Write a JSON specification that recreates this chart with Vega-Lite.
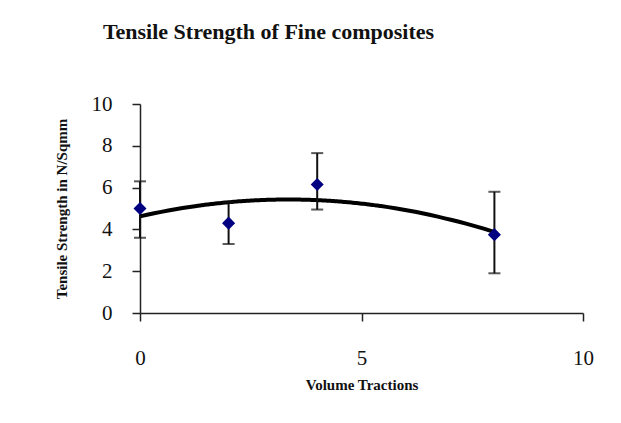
{
  "$schema": "https://vega.github.io/schema/vega-lite/v6.json",
  "autosize": "none",
  "width": 443,
  "height": 209,
  "padding": {"left": 140, "top": 104, "right": 38, "bottom": 110},
  "background": "white",
  "config": {
    "view": {"stroke": null},
    "font": "Liberation Serif",
    "axis": {
      "grid": false,
      "labelFlush": false,
      "labelOverlap": false,
      "domainColor": "#222222",
      "domainWidth": 1.5,
      "tickColor": "#222222",
      "tickWidth": 1.5,
      "tickSize": 8,
      "labelFont": "Liberation Serif",
      "labelFontSize": 21,
      "labelColor": "#111111",
      "titleFont": "Liberation Serif",
      "titleFontSize": 15,
      "titleFontWeight": "bold",
      "titleColor": "#111111"
    }
  },
  "title": {
    "text": "Tensile Strength of Fine composites",
    "font": "Liberation Serif",
    "fontSize": 22,
    "fontWeight": "bold",
    "color": "#111111",
    "anchor": "middle",
    "frame": "group",
    "dx": -93,
    "offset": 49
  },
  "data": {
    "values": [
      {"fraction": 0, "strength": 5.0, "low": 3.6, "high": 6.3},
      {"fraction": 2, "strength": 4.3, "low": 3.3, "high": 5.3},
      {"fraction": 4, "strength": 6.15, "low": 4.95, "high": 7.65},
      {"fraction": 8, "strength": 3.75, "low": 1.9, "high": 5.8}
    ]
  },
  "layer": [
    {
      "transform": [
        {"regression": "strength", "on": "fraction", "method": "poly", "order": 2, "extent": [0, 8]}
      ],
      "mark": {"type": "line", "color": "black", "strokeWidth": 4, "interpolate": "monotone"},
      "encoding": {
        "x": {
          "field": "fraction", "type": "quantitative",
          "scale": {"domain": [0, 10]},
          "axis": {"values": [0, 5, 10], "labelPadding": 26, "title": "Volume Tractions", "titlePadding": 9}
        },
        "y": {
          "field": "strength", "type": "quantitative",
          "scale": {"domain": [0, 10]},
          "axis": {"values": [0, 2, 4, 6, 8, 10], "labelPadding": 20, "title": "Tensile Strength in N/Sqmm", "titlePadding": 22}
        }
      }
    },
    {
      "mark": {"type": "rule", "color": "#111111", "strokeWidth": 2},
      "encoding": {
        "x": {"field": "fraction", "type": "quantitative"},
        "y": {"field": "low", "type": "quantitative"},
        "y2": {"field": "high"}
      }
    },
    {
      "mark": {"type": "tick", "orient": "horizontal", "color": "#111111", "size": 12, "thickness": 2},
      "encoding": {
        "x": {"field": "fraction", "type": "quantitative"},
        "y": {"field": "low", "type": "quantitative"}
      }
    },
    {
      "mark": {"type": "tick", "orient": "horizontal", "color": "#111111", "size": 12, "thickness": 2},
      "encoding": {
        "x": {"field": "fraction", "type": "quantitative"},
        "y": {"field": "high", "type": "quantitative"}
      }
    },
    {
      "mark": {"type": "point", "shape": "diamond", "filled": true, "color": "#000080", "size": 170, "opacity": 1},
      "encoding": {
        "x": {"field": "fraction", "type": "quantitative"},
        "y": {"field": "strength", "type": "quantitative"}
      }
    }
  ]
}
